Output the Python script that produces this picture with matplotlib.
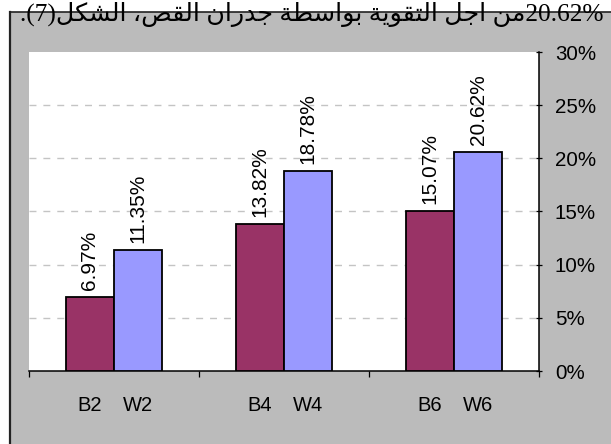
import re
import matplotlib
matplotlib.use("Agg")
import matplotlib.pyplot as plt
from matplotlib.lines import Line2D
from matplotlib.patches import Rectangle
from matplotlib.ticker import FuncFormatter

# ---- data -------------------------------------------------------------
b_labels = ["B2", "B4", "B6"]
w_labels = ["W2", "W4", "W6"]
b_values = [6.97, 13.82, 15.07]      # percent
w_values = [11.35, 18.78, 20.62]     # percent
y_ticks = [0, 5, 10, 15, 20, 25, 30]
caption = "20.62%من اجل التقوية بواسطة جدران القص، الشكل(7)."

# ---- minimal Arabic shaping (presentation forms + RTL ordering) --------
FORMS = {
    "ا": (0xFE8D, 0xFE8E, None, None),
    "ب": (0xFE8F, 0xFE90, 0xFE91, 0xFE92),
    "ة": (0xFE93, 0xFE94, None, None),
    "ت": (0xFE95, 0xFE96, 0xFE97, 0xFE98),
    "ج": (0xFE9D, 0xFE9E, 0xFE9F, 0xFEA0),
    "د": (0xFEA9, 0xFEAA, None, None),
    "ر": (0xFEAD, 0xFEAE, None, None),
    "س": (0xFEB1, 0xFEB2, 0xFEB3, 0xFEB4),
    "ش": (0xFEB5, 0xFEB6, 0xFEB7, 0xFEB8),
    "ص": (0xFEB9, 0xFEBA, 0xFEBB, 0xFEBC),
    "ط": (0xFEC1, 0xFEC2, 0xFEC3, 0xFEC4),
    "ق": (0xFED5, 0xFED6, 0xFED7, 0xFED8),
    "ك": (0xFED9, 0xFEDA, 0xFEDB, 0xFEDC),
    "ل": (0xFEDD, 0xFEDE, 0xFEDF, 0xFEE0),
    "م": (0xFEE1, 0xFEE2, 0xFEE3, 0xFEE4),
    "ن": (0xFEE5, 0xFEE6, 0xFEE7, 0xFEE8),
    "و": (0xFEED, 0xFEEE, None, None),
    "ي": (0xFEF1, 0xFEF2, 0xFEF3, 0xFEF4),
}


def shape_rtl(text):
    out = []
    for i, ch in enumerate(text):
        if ch not in FORMS:
            out.append(ch)
            continue
        iso, fin, ini, med = FORMS[ch]
        prev = text[i - 1] if i > 0 else ""
        nxt = text[i + 1] if i + 1 < len(text) else ""
        jp = prev in FORMS and FORMS[prev][2] is not None
        jn = ini is not None and nxt in FORMS
        if jp and jn:
            code = med
        elif jp:
            code = fin
        elif jn:
            code = ini
        else:
            code = iso
        out.append(chr(code))
    s = "".join(out)[::-1]
    s = re.sub(r"[0-9.%]+", lambda m: m.group(0)[::-1], s)
    s = s.translate(str.maketrans({"(": ")", ")": "("}))
    return s


# ---- figure ------------------------------------------------------------
W, H = 611, 444
fig = plt.figure(figsize=(W / 100, H / 100), dpi=100)
fig.patch.set_facecolor("white")

bg = "#BBBBBB"
fig.patches.append(Rectangle((9.5 / W, 0), 1.0, 1 - 12.5 / H,
                             transform=fig.transFigure, facecolor=bg,
                             edgecolor="none", zorder=-10))
fig.lines.append(Line2D([9.5 / W, 9.5 / W], [0, 1 - 12.5 / H],
                        transform=fig.transFigure, color="#222222", lw=1.6,
                        zorder=-5))
fig.lines.append(Line2D([9.5 / W, 1.0], [1 - 12.5 / H, 1 - 12.5 / H],
                        transform=fig.transFigure, color="#222222", lw=1.2,
                        zorder=-5))

ax = fig.add_axes([29 / W, (H - 371) / H, 510 / W, 319 / H], zorder=1)
ax.set_facecolor("white")

font = "Liberation Sans"
bar_w = 0.283
xs = list(range(len(b_values)))
xb = [x - bar_w / 2 for x in xs]
xw = [x + bar_w / 2 for x in xs]

bars_b = ax.bar(xb, b_values, width=bar_w, color="#993366",
                edgecolor="black", linewidth=1.3, zorder=3)
bars_w = ax.bar(xw, w_values, width=bar_w, color="#9999FF",
                edgecolor="black", linewidth=1.3, zorder=3)

for bars in (bars_b, bars_w):
    ax.bar_label(bars, fmt="%.2f%%", rotation=90, padding=5,
                 fontsize=15, family=font)

ax.set_xlim(-0.5, len(xs) - 0.5)
ax.set_ylim(0, 30)

# y axis on the right
ax.yaxis.tick_right()
ax.set_yticks(y_ticks)
ax.yaxis.set_major_formatter(FuncFormatter(lambda v, p: f"{v:.0f}%"))
ax.tick_params(axis="y", direction="inout", length=5, width=0.9,
               pad=9, labelsize=14.8, colors="black")
for lab in ax.get_yticklabels():
    lab.set_family(font)

# x axis: group separators as major ticks, series names as minor labels
ax.set_xticks([x - 0.5 for x in range(len(xs) + 1)])
ax.set_xticklabels([])
ax.set_xticks(xb + xw, b_labels + w_labels, minor=True)
ax.tick_params(axis="x", which="major", direction="out", length=4.5,
               width=0.9)
ax.tick_params(axis="x", which="minor", length=0, pad=18, labelsize=14.5)
for lab in ax.get_xticklabels(minor=True):
    lab.set_family(font)

for s in ("top", "left"):
    ax.spines[s].set_visible(False)
ax.spines["right"].set_linewidth(1.1)
ax.spines["bottom"].set_linewidth(1.1)

for v in y_ticks[1:-1]:
    ax.axhline(v, color="#C4C4C4", lw=1.0, ls=(0, (5, 5)), zorder=1)

fig.text(603 / W, 1 - 21 / H, shape_rtl(caption), ha="right", va="baseline",
         fontsize=18.3, family=["Liberation Serif", "DejaVu Sans"], zorder=5)

fig.savefig("out.png", dpi=100, facecolor=fig.get_facecolor())
